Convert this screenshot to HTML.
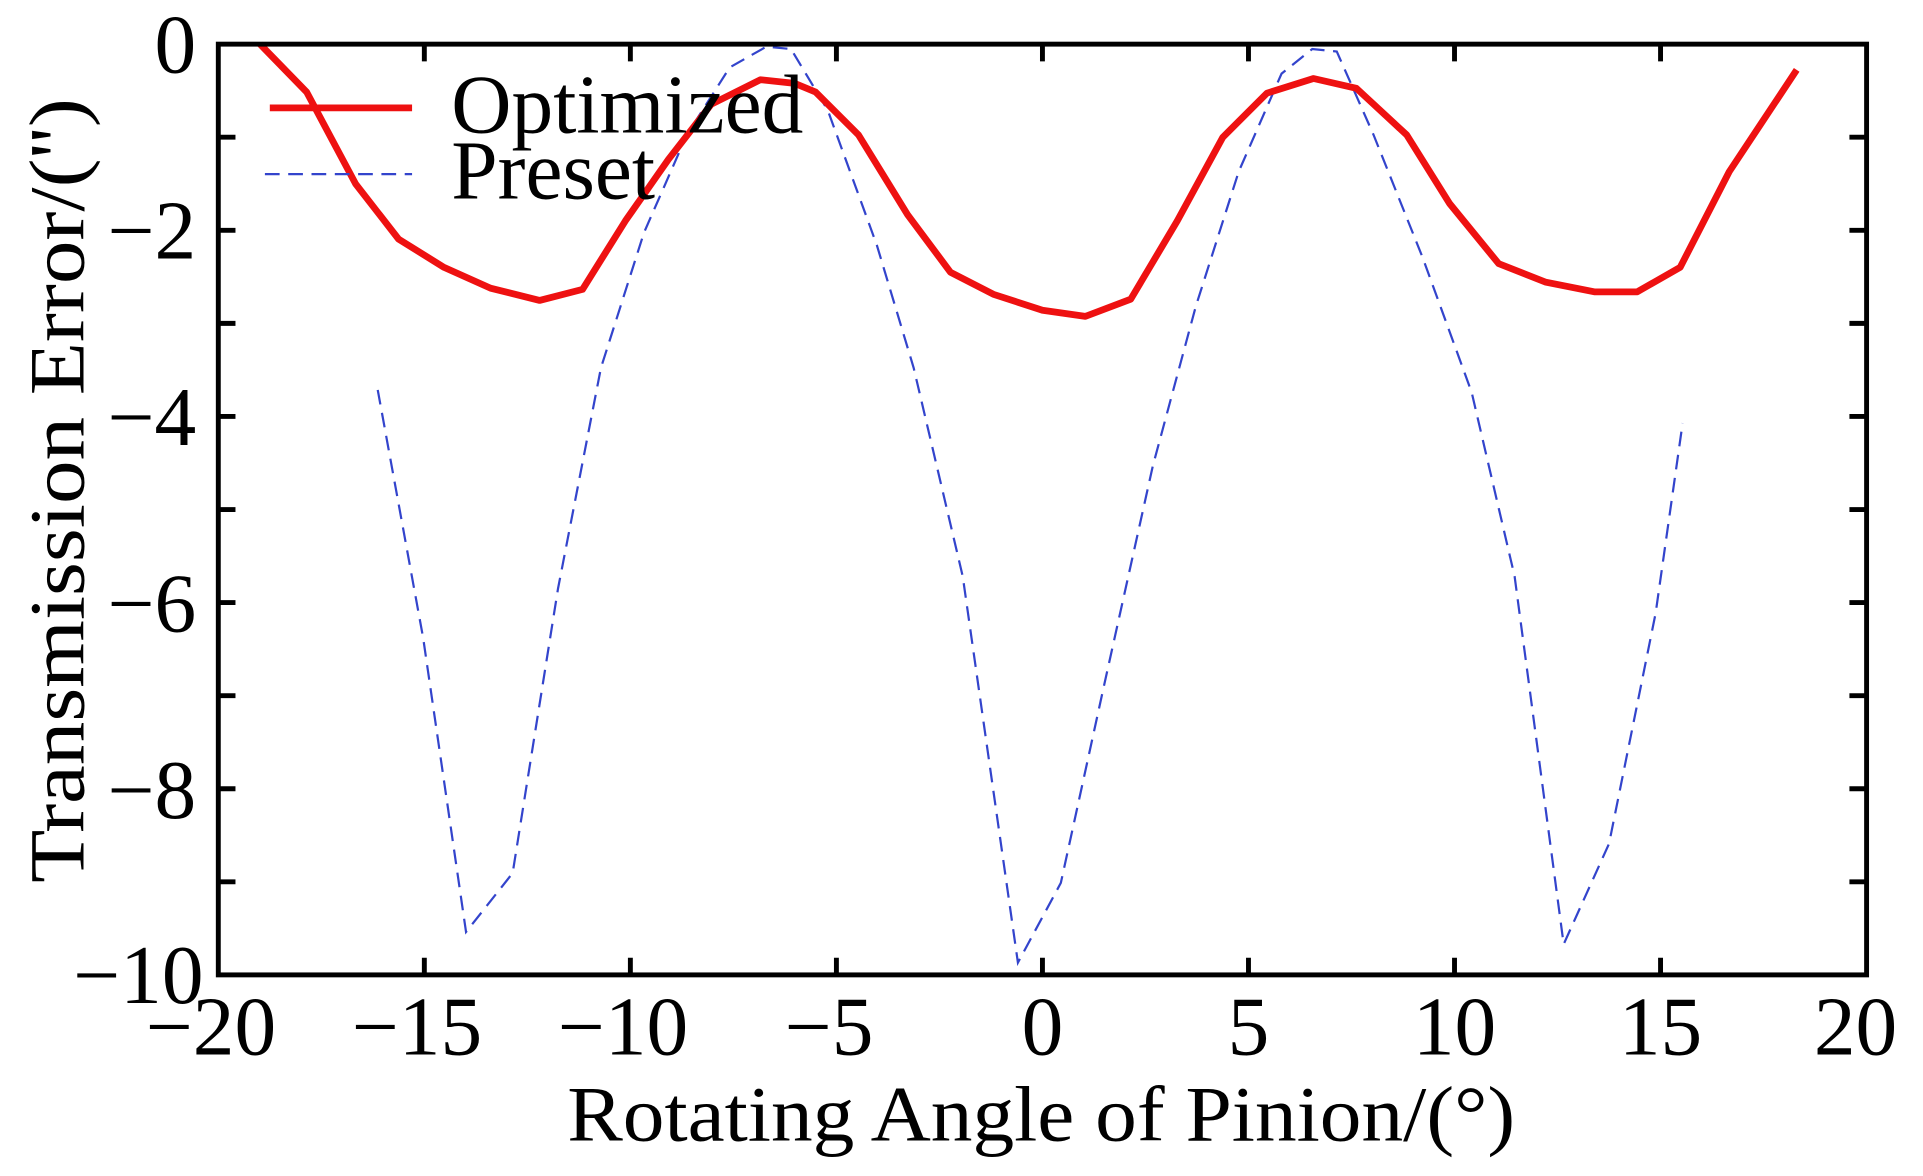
<!DOCTYPE html>
<html><head><meta charset="utf-8"><style>html,body{margin:0;padding:0;background:#fff}svg{display:block}</style></head>
<body>
<svg width="1923" height="1176" viewBox="0 0 1568 959" preserveAspectRatio="none" xmlns="http://www.w3.org/2000/svg" font-family="'Liberation Serif', serif">
<rect width="1568" height="959" fill="#fff"/>
<polyline fill="none" stroke="#3344cc" stroke-width="1.8" stroke-dasharray="12,7" points="308,318 345,520 380,760 418,712 455,480 490,300 525,190 560,110 595,55 625,38 645,40 675,90 715,200 745,300 785,470 830,785 865,720 900,560 940,380 975,250 1010,140 1045,60 1070,40 1090,42 1120,110 1160,210 1200,320 1235,470 1275,770 1312,688 1350,500 1372,345"/>
<polyline fill="none" stroke="#ee1111" stroke-width="5.5" stroke-linejoin="round" points="212,36 250,75 290,150 325,195 362,218 400,235 440,245 475,236 510,180 545,130 580,85 620,65 648,68 665,75 700,110 740,175 775,222 810,240 850,253 885,258 922,244 960,180 997,112 1033,76 1071,64 1106,72 1147,110 1182,166 1222,215 1260,230 1300,238 1335,238 1370,218 1410,140 1465,57"/>
<rect x="178" y="36" width="1344" height="759" fill="none" stroke="#000" stroke-width="4"/>
<g stroke="#000" stroke-width="4">
<path d="M346,795v-14M514,795v-14M682,795v-14M850,795v-14M1018,795v-14M1186,795v-14M1354,795v-14"/>
<path d="M346,36v14M514,36v14M682,36v14M850,36v14M1018,36v14M1186,36v14M1354,36v14"/>
<path d="M178,111.9h14M178,187.8h14M178,263.7h14M178,339.6h14M178,415.5h14M178,491.4h14M178,567.3h14M178,643.2h14M178,719.1h14"/>
<path d="M1522,111.9h-14M1522,187.8h-14M1522,263.7h-14M1522,339.6h-14M1522,415.5h-14M1522,491.4h-14M1522,567.3h-14M1522,643.2h-14M1522,719.1h-14"/>
</g>
<g font-size="68" text-anchor="end" fill="#000">
<text x="160" y="59">0</text>
<text x="160" y="211">−2</text>
<text x="160" y="363">−4</text>
<text x="160" y="515">−6</text>
<text x="160" y="667">−8</text>
<text x="166" y="818">−10</text>
</g>
<g font-size="68" text-anchor="middle" fill="#000">
<text x="172" y="860">−20</text>
<text x="340" y="860">−15</text>
<text x="508" y="860">−10</text>
<text x="676" y="860">−5</text>
<text x="850" y="860">0</text>
<text x="1018" y="860">5</text>
<text x="1186" y="860">10</text>
<text x="1354" y="860">15</text>
<text x="1513" y="860">20</text>
</g>
<text x="849" y="930" font-size="64" text-anchor="middle" textLength="773" lengthAdjust="spacingAndGlyphs">Rotating Angle of Pinion/(°)</text>
<text transform="translate(68,400) rotate(-90)" font-size="64" text-anchor="middle" textLength="640" lengthAdjust="spacingAndGlyphs">Transmission Error/('')</text>
<line x1="220" y1="88" x2="336" y2="88" stroke="#ee1111" stroke-width="5.5"/>
<line x1="216" y1="142" x2="336" y2="142" stroke="#3344cc" stroke-width="1.8" stroke-dasharray="12,7"/>
<text x="368" y="108" font-size="68">Optimized</text>
<text x="368" y="162" font-size="68">Preset</text>
</svg>
</body></html>
